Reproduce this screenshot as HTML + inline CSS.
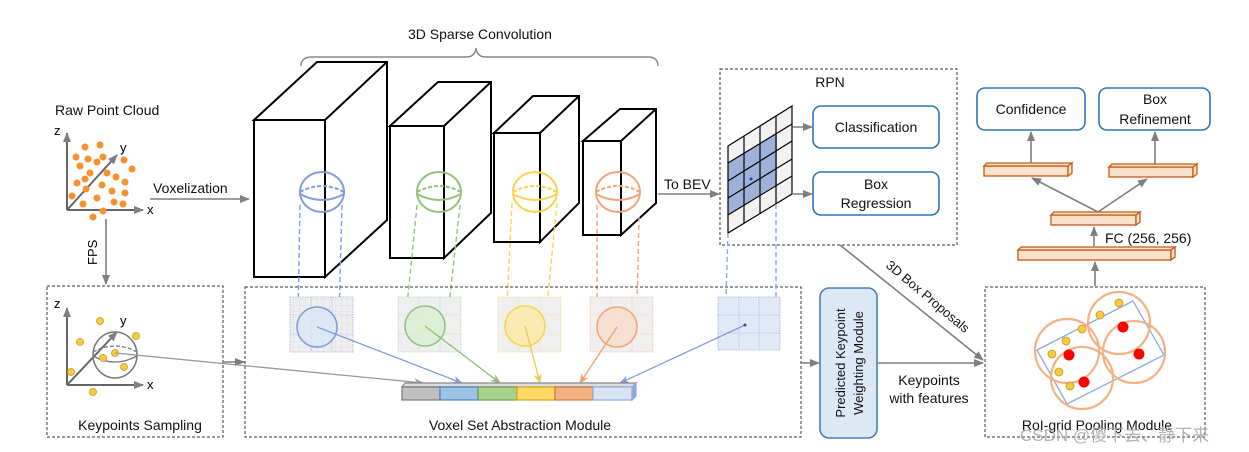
<!DOCTYPE html>
<html><head><meta charset="utf-8"><style>
html,body{margin:0;padding:0;background:#fff;}
svg{display:block;font-family:"Liberation Sans","Noto Sans CJK SC",sans-serif;}
</style></head><body>
<svg width="1249" height="452" viewBox="0 0 1249 452" xmlns="http://www.w3.org/2000/svg">
<defs>
<marker id="ag" markerWidth="10" markerHeight="8" refX="9" refY="4" orient="auto" markerUnits="userSpaceOnUse"><path d="M0,0 L10,4 L0,8 z" fill="#7f7f7f"/></marker>
<marker id="ab" markerWidth="10" markerHeight="8" refX="9" refY="4" orient="auto" markerUnits="userSpaceOnUse"><path d="M0,0 L10,4 L0,8 L3,4 z" fill="#7f9fdc"/></marker>
<marker id="agr" markerWidth="10" markerHeight="8" refX="9" refY="4" orient="auto" markerUnits="userSpaceOnUse"><path d="M0,0 L10,4 L0,8 L3,4 z" fill="#8cc26e"/></marker>
<marker id="ay" markerWidth="10" markerHeight="8" refX="9" refY="4" orient="auto" markerUnits="userSpaceOnUse"><path d="M0,0 L10,4 L0,8 L3,4 z" fill="#f5c842"/></marker>
<marker id="ao" markerWidth="10" markerHeight="8" refX="9" refY="4" orient="auto" markerUnits="userSpaceOnUse"><path d="M0,0 L10,4 L0,8 L3,4 z" fill="#f0a070"/></marker>
<marker id="agl" markerWidth="10" markerHeight="8" refX="9" refY="4" orient="auto" markerUnits="userSpaceOnUse"><path d="M0,0 L10,4 L0,8 L3,4 z" fill="#999"/></marker>
<pattern id="grd" width="6" height="6" patternUnits="userSpaceOnUse"><path d="M6,0 V6 M0,6 H6" stroke="#cfcfe8" stroke-width="0.6" fill="none"/></pattern>
</defs>

<!-- Raw point cloud -->
<text x="55" y="115" font-size="14" fill="#111">Raw Point Cloud</text>
<g stroke="#666" stroke-width="2" fill="none">
<line x1="67" y1="210" x2="67" y2="133" marker-end="url(#ag)"/>
<line x1="67" y1="210" x2="143" y2="210" marker-end="url(#ag)"/>
<line x1="67" y1="210" x2="117" y2="155" marker-end="url(#ag)"/>
</g>
<text x="54" y="135" font-size="13">z</text>
<text x="120" y="152" font-size="13">y</text>
<text x="147" y="214" font-size="13">x</text>
<g fill="#f5912e">
<circle cx="85" cy="147" r="3.5"/><circle cx="100" cy="145" r="3.5"/><circle cx="76" cy="157" r="3.5"/><circle cx="88" cy="159" r="3.5"/><circle cx="97" cy="162" r="3.5"/><circle cx="103" cy="157" r="3.5"/><circle cx="124" cy="160" r="3.5"/><circle cx="132" cy="169" r="3.5"/><circle cx="80" cy="166" r="3.5"/><circle cx="90" cy="173" r="3.5"/><circle cx="107" cy="173" r="3.5"/><circle cx="116" cy="177" r="3.5"/><circle cx="77" cy="183" r="3.5"/><circle cx="85" cy="179" r="3.5"/><circle cx="125" cy="182" r="3.5"/><circle cx="86" cy="189" r="3.5"/><circle cx="102" cy="185" r="3.5"/><circle cx="112" cy="191" r="3.5"/><circle cx="125" cy="193" r="3.5"/><circle cx="72" cy="196" r="3.5"/><circle cx="83" cy="204" r="3.5"/><circle cx="97" cy="198" r="3.5"/><circle cx="114" cy="202" r="3.5"/><circle cx="123" cy="204" r="3.5"/><circle cx="103" cy="211" r="3.5"/><circle cx="93" cy="217" r="3.5"/>
</g>
<text x="153" y="193" font-size="14" fill="#111">Voxelization</text>
<line x1="150" y1="199" x2="249" y2="199" stroke="#7f7f7f" stroke-width="1.6" marker-end="url(#ag)"/>
<line x1="106" y1="219" x2="106" y2="284" stroke="#7f7f7f" stroke-width="1.6" marker-end="url(#ag)"/>
<text x="0" y="0" font-size="13" transform="translate(97,265) rotate(-90)">FPS</text>

<!-- Keypoints sampling -->
<rect x="47" y="286" width="176" height="151" fill="none" stroke="#333" stroke-width="1" stroke-dasharray="3,2"/>
<g stroke="#666" stroke-width="2" fill="none">
<line x1="67" y1="385" x2="67" y2="308" marker-end="url(#ag)"/>
<line x1="67" y1="385" x2="143" y2="385" marker-end="url(#ag)"/>
<line x1="67" y1="385" x2="117" y2="332" marker-end="url(#ag)"/>
</g>
<text x="54" y="308" font-size="13">z</text>
<text x="120" y="325" font-size="13">y</text>
<text x="147" y="389" font-size="13">x</text>
<ellipse cx="115" cy="355" rx="22" ry="23" fill="none" stroke="#777" stroke-width="1.5"/>
<path d="M93,352 Q115,340 137,352" fill="none" stroke="#777" stroke-width="1.3" stroke-dasharray="4,2"/>
<path d="M93,356 Q115,368 137,356" fill="none" stroke="#777" stroke-width="1.3"/>
<g fill="#f7c944" stroke="#c89a10" stroke-width="0.8">
<circle cx="100" cy="321" r="3.5"/><circle cx="80" cy="342" r="3.5"/><circle cx="136" cy="336" r="3.5"/><circle cx="115" cy="353" r="3.5"/><circle cx="103" cy="358" r="3.5"/><circle cx="124" cy="367" r="3.5"/><circle cx="71" cy="372" r="3.5"/><circle cx="93" cy="392" r="3.5"/>
</g>
<text x="140" y="430" font-size="14" text-anchor="middle" fill="#111">Keypoints Sampling</text>
<line x1="223" y1="362" x2="244" y2="362" stroke="#7f7f7f" stroke-width="1.6" marker-end="url(#ag)"/>

<!-- 3D sparse conv -->
<text x="480" y="39" font-size="14" text-anchor="middle" fill="#111">3D Sparse Convolution</text>
<path d="M301,66 Q301,57 312,57 L466,57 Q475,57 476,48 Q477,57 486,57 L648,57 Q658,57 658,66" fill="none" stroke="#888" stroke-width="1.4"/>
<g fill="#fff" stroke="#000" stroke-width="2">
<path d="M254,120 L317,62 L387,62 L387,220 L325,277 L325,120 Z"/><rect x="254" y="120" width="71" height="157"/><line x1="325" y1="120" x2="387" y2="62"/>
<path d="M390,126 L438,82 L491,82 L491,213 L444,258 L444,126 Z"/><rect x="390" y="126" width="54" height="132"/><line x1="444" y1="126" x2="491" y2="82"/>
<path d="M494,133 L533,96 L579,96 L579,203 L540,242 L540,133 Z"/><rect x="494" y="133" width="46" height="109"/><line x1="540" y1="133" x2="579" y2="96"/>
<path d="M583,141 L620,109 L656,109 L656,203 L621,235 L621,141 Z"/><rect x="583" y="141" width="38" height="94"/><line x1="621" y1="141" x2="656" y2="109"/>
</g>
<!-- spheres -->
<g fill="none" stroke-width="2">
<g stroke="#7f9fdc"><ellipse cx="322" cy="192" rx="22" ry="20"/><path d="M300,192 Q322,180 344,192" stroke-dasharray="4,2"/><path d="M300,194 Q322,206 344,194"/></g>
<g stroke="#93c47d"><ellipse cx="439" cy="192" rx="22" ry="20"/><path d="M417,192 Q439,180 461,192" stroke-dasharray="4,2"/><path d="M417,194 Q439,206 461,194"/></g>
<g stroke="#f7d351"><ellipse cx="535" cy="192" rx="22" ry="20"/><path d="M513,192 Q535,180 557,192" stroke-dasharray="4,2"/><path d="M513,194 Q535,206 557,194"/></g>
<g stroke="#f2a57a"><ellipse cx="618" cy="192" rx="22" ry="20"/><path d="M596,192 Q618,180 640,192" stroke-dasharray="4,2"/><path d="M596,194 Q618,206 640,194"/></g>
</g>
<g fill="none" stroke-width="1.4" stroke-dasharray="5,3">
<g stroke="#7f9fdc"><line x1="300" y1="205" x2="298" y2="318"/><line x1="342" y1="205" x2="339" y2="318"/></g>
<g stroke="#93c47d"><line x1="417" y1="205" x2="407" y2="305"/><line x1="460" y1="205" x2="449" y2="305"/></g>
<g stroke="#f7d351"><line x1="512" y1="203" x2="507" y2="305"/><line x1="557" y1="203" x2="547" y2="305"/></g>
<g stroke="#f2a57a"><line x1="597" y1="205" x2="597" y2="305"/><line x1="639" y1="217" x2="637" y2="305"/></g>
</g>
<line x1="658" y1="194" x2="719" y2="194" stroke="#7f7f7f" stroke-width="1.6" marker-end="url(#ag)"/>
<text x="664" y="189" font-size="14" fill="#111">To BEV</text>

<!-- VSA -->
<rect x="245" y="287" width="556" height="150" fill="none" stroke="#333" stroke-width="1" stroke-dasharray="3,2"/>
<g stroke-width="0.8" stroke-dasharray="1.5,1">
<rect x="290" y="297" width="63" height="55" fill="#efefef" stroke="#9ab0e0"/>
<rect x="290" y="297" width="63" height="55" fill="url(#grd)" stroke="none"/>
<rect x="398" y="297" width="63" height="55" fill="#efefef" stroke="#b5d9a5"/>
<rect x="498" y="297" width="63" height="55" fill="#efefef" stroke="#f7dc8a"/>
<rect x="590" y="297" width="63" height="55" fill="#efefef" stroke="#f5c0a0"/>
<rect x="718" y="297" width="62" height="53" fill="#e1e9f6" stroke="#9ab0e0"/>
</g>
<g stroke-width="0.6" stroke-dasharray="1.5,1" fill="none">
<path d="M311,297V352M332,297V352M290,315H353M290,334H353" stroke="#9ab0e0"/>
<path d="M419,297V352M440,297V352M398,315H461M398,334H461" stroke="#b5d9a5"/>
<path d="M519,297V352M540,297V352M498,315H561M498,334H561" stroke="#f7dc8a"/>
<path d="M611,297V352M632,297V352M590,315H653M590,334H653" stroke="#f5c0a0"/>
<path d="M739,297V350M759,297V350M718,315H780M718,333H780" stroke="#9ab0e0"/>
</g>
<circle cx="317" cy="327" r="20" fill="#dbe6f6" fill-opacity="0.8" stroke="#7f9fdc" stroke-width="1.6"/>
<circle cx="425" cy="326" r="20" fill="#dbeed0" fill-opacity="0.8" stroke="#93c47d" stroke-width="1.6"/>
<circle cx="525" cy="326" r="20" fill="#fdeaa5" fill-opacity="0.8" stroke="#f7d351" stroke-width="1.6"/>
<circle cx="617" cy="327" r="20" fill="#f8dcc9" fill-opacity="0.8" stroke="#f2a57a" stroke-width="1.6"/>
<g stroke-width="1.3">
<line x1="317" y1="327" x2="462" y2="383" stroke="#7f9fdc" marker-end="url(#ab)"/>
<line x1="425" y1="326" x2="500" y2="383" stroke="#8cc26e" marker-end="url(#agr)"/>
<line x1="525" y1="326" x2="540" y2="383" stroke="#f5c842" marker-end="url(#ay)"/>
<line x1="617" y1="327" x2="580" y2="383" stroke="#f0a070" marker-end="url(#ao)"/>
<line x1="745" y1="325" x2="620" y2="383" stroke="#7f9fdc" marker-end="url(#ab)"/>
<line x1="115" y1="353" x2="423" y2="383" stroke="#999" marker-end="url(#agl)"/>
</g>
<circle cx="745" cy="325" r="1.5" fill="#3355aa"/>
<g stroke-width="1.2">
<path d="M402,387 L405,383 L636,383 L632,387 Z" fill="#ddd" stroke="#888"/>
<rect x="402" y="387" width="38" height="13" fill="#bfbfbf" stroke="#777"/>
<rect x="440" y="387" width="38" height="13" fill="#9dc3e6" stroke="#4a7ebb"/>
<rect x="478" y="387" width="39" height="13" fill="#a9d18e" stroke="#6a9e4f"/>
<rect x="517" y="387" width="38" height="13" fill="#ffd966" stroke="#d4a60e"/>
<rect x="555" y="387" width="38" height="13" fill="#f4b183" stroke="#d0733c"/>
<rect x="593" y="387" width="39" height="13" fill="#dae3f3" stroke="#8faadc"/>
<path d="M632,387 L636,383 L636,396 L632,400 Z" fill="#8faadc" stroke="#8faadc"/>
</g>
<text x="520" y="430" font-size="14" text-anchor="middle" fill="#111">Voxel Set Abstraction Module</text>

<!-- RPN -->
<rect x="720" y="69" width="237" height="176" fill="none" stroke="#333" stroke-width="1" stroke-dasharray="3,2"/>
<text x="830" y="87" font-size="14" text-anchor="middle" fill="#111">RPN</text>
<path d="M728,146 L792,106 L792,194 L728,233 Z" fill="#f2f2f2"/>
<path d="M728,163 L777,133 L777,184 L728,215 Z" fill="#95abd4" opacity="0.9"/>
<g stroke="#000" stroke-width="1.2" fill="none">
<path d="M728,146 L792,106 L792,194 L728,233 Z"/>
<line x1="744" y1="136" x2="744" y2="223"/><line x1="760" y1="126" x2="760" y2="213"/><line x1="776" y1="116" x2="776" y2="204"/>
<line x1="728" y1="163" x2="792" y2="124"/><line x1="728" y1="181" x2="792" y2="141"/><line x1="728" y1="198" x2="792" y2="159"/><line x1="728" y1="215" x2="792" y2="176"/>
</g>
<circle cx="751" cy="179" r="1.5" fill="#2244aa"/>
<g stroke="#8faadc" stroke-width="1.4" stroke-dasharray="5,3">
<line x1="728" y1="233" x2="726" y2="297"/><line x1="776" y1="204" x2="776" y2="297"/>
</g>
<line x1="793" y1="127" x2="812" y2="127" stroke="#7f7f7f" stroke-width="1.6" marker-end="url(#ag)"/>
<line x1="793" y1="194" x2="812" y2="194" stroke="#7f7f7f" stroke-width="1.6" marker-end="url(#ag)"/>
<rect x="813" y="106" width="126" height="42" rx="8" fill="#fff" stroke="#2e75b6" stroke-width="1.6"/>
<text x="876" y="132" font-size="14" text-anchor="middle" fill="#111">Classification</text>
<rect x="813" y="172" width="126" height="43" rx="8" fill="#fff" stroke="#2e75b6" stroke-width="1.6"/>
<text x="876" y="189" font-size="14" text-anchor="middle" fill="#111">Box</text>
<text x="876" y="208" font-size="14" text-anchor="middle" fill="#111">Regression</text>

<!-- 3D box proposals -->
<line x1="840" y1="245" x2="983" y2="360" stroke="#7f7f7f" stroke-width="1.6" marker-end="url(#ag)"/>
<text x="0" y="0" font-size="13" text-anchor="middle" fill="#111" transform="translate(925,300) rotate(40)">3D Box Proposals</text>

<!-- Keypoint weighting -->
<line x1="801" y1="363" x2="819" y2="363" stroke="#7f7f7f" stroke-width="1.6" marker-end="url(#ag)"/>
<rect x="820" y="288" width="57" height="150" rx="9" fill="#dde8f5" stroke="#4a7ebb" stroke-width="1.6"/>
<text x="0" y="0" font-size="13" text-anchor="middle" fill="#111" transform="translate(845,363) rotate(-90)">Predicted Keypoint</text>
<text x="0" y="0" font-size="13" text-anchor="middle" fill="#111" transform="translate(863,363) rotate(-90)">Weighting Module</text>
<line x1="877" y1="363" x2="983" y2="363" stroke="#7f7f7f" stroke-width="1.6" marker-end="url(#ag)"/>
<text x="929" y="385" font-size="14" text-anchor="middle" fill="#111">Keypoints</text>
<text x="929" y="403" font-size="14" text-anchor="middle" fill="#111">with features</text>

<!-- RoI -->
<rect x="985" y="287" width="220" height="150" fill="none" stroke="#333" stroke-width="1" stroke-dasharray="3,2"/>
<path d="M1037,350 L1133,301 L1164,355 L1067,404 Z" fill="none" stroke="#8faadc" stroke-width="1.3"/>
<g fill="none" stroke="#f4b183" stroke-width="2.2">
<circle cx="1067" cy="351" r="32"/><circle cx="1119" cy="323" r="31"/><circle cx="1134" cy="352" r="31"/><circle cx="1082" cy="378" r="31"/>
</g>
<g fill="#ff0000"><circle cx="1069" cy="355" r="5.5"/><circle cx="1123" cy="327" r="5.5"/><circle cx="1139" cy="354" r="5.5"/><circle cx="1084" cy="382" r="5.5"/></g>
<g fill="#f7c944" stroke="#c89a10" stroke-width="0.8">
<circle cx="1119" cy="303" r="4"/><circle cx="1100" cy="315" r="4"/><circle cx="1082" cy="329" r="4"/><circle cx="1066" cy="341" r="4"/><circle cx="1052" cy="354" r="4"/><circle cx="1059" cy="372" r="4"/><circle cx="1070" cy="386" r="4"/>
</g>
<text x="1097" y="430" font-size="14" text-anchor="middle" fill="#111">RoI-grid Pooling Module</text>

<!-- FC head -->
<line x1="1095" y1="286" x2="1095" y2="262" stroke="#7f7f7f" stroke-width="1.6" marker-end="url(#ag)"/>
<g fill="#fbe0cc" stroke="#c55a11" stroke-width="1.3">
<rect x="1018" y="250" width="153" height="10"/><path d="M1018,250 L1021,247 L1175,247 L1171,250 Z"/><path d="M1171,250 L1175,247 L1175,257 L1171,260 Z"/>
<rect x="1051" y="215" width="85" height="10"/><path d="M1051,215 L1054,212 L1140,212 L1136,215 Z"/><path d="M1136,215 L1140,212 L1140,222 L1136,225 Z"/>
<rect x="984" y="166" width="84" height="10"/><path d="M984,166 L987,163 L1072,163 L1068,166 Z"/><path d="M1068,166 L1072,163 L1072,173 L1068,176 Z"/>
<rect x="1109" y="167" width="84" height="10"/><path d="M1109,167 L1112,164 L1197,164 L1193,167 Z"/><path d="M1193,167 L1197,164 L1197,174 L1193,177 Z"/>
</g>
<line x1="1094" y1="246" x2="1094" y2="227" stroke="#7f7f7f" stroke-width="1.6" marker-end="url(#ag)"/>
<text x="1105" y="243" font-size="14" fill="#111">FC (256, 256)</text>
<line x1="1098" y1="212" x2="1032" y2="178" stroke="#7f7f7f" stroke-width="1.6" marker-end="url(#ag)"/>
<line x1="1098" y1="212" x2="1147" y2="179" stroke="#7f7f7f" stroke-width="1.6" marker-end="url(#ag)"/>
<line x1="1031" y1="163" x2="1031" y2="132" stroke="#7f7f7f" stroke-width="1.6" marker-end="url(#ag)"/>
<line x1="1155" y1="164" x2="1155" y2="132" stroke="#7f7f7f" stroke-width="1.6" marker-end="url(#ag)"/>
<rect x="977" y="88" width="108" height="42" rx="8" fill="#fff" stroke="#2e75b6" stroke-width="1.6"/>
<text x="1031" y="114" font-size="14" text-anchor="middle" fill="#111">Confidence</text>
<rect x="1099" y="88" width="111" height="42" rx="8" fill="#fff" stroke="#2e75b6" stroke-width="1.6"/>
<text x="1155" y="104" font-size="14" text-anchor="middle" fill="#111">Box</text>
<text x="1155" y="124" font-size="14" text-anchor="middle" fill="#111">Refinement</text>

<!-- watermark -->
<text x="1020" y="441" font-size="17" fill="#aaa" opacity="0.9">CSDN @傻下去、静下来</text>
</svg>
</body></html>
